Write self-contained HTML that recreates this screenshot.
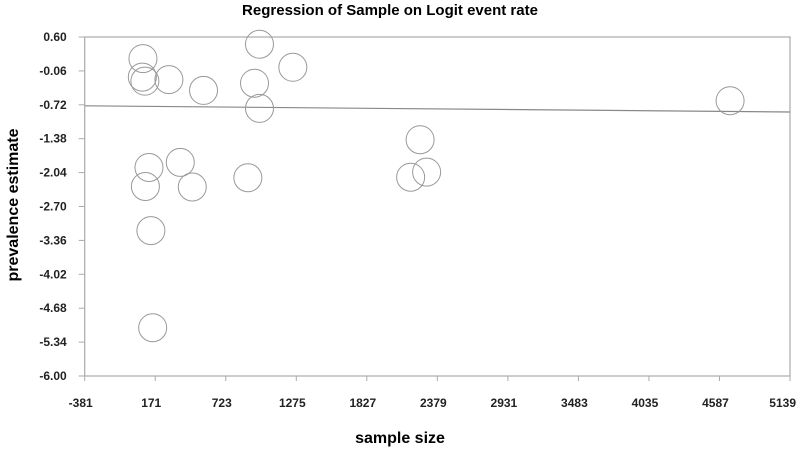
<!DOCTYPE html>
<html><head><meta charset="utf-8"><style>
html,body{margin:0;padding:0;background:#fff;}
svg{display:block;font-family:"Liberation Sans",Arial,sans-serif;}
</style></head><body>
<svg id="chart" width="796" height="454" xmlns="http://www.w3.org/2000/svg">
<text x="390" y="15" text-anchor="middle" font-size="15" font-weight="bold">Regression of Sample on Logit event rate</text>
<text transform="translate(18,205) rotate(-90)" text-anchor="middle" font-size="16" font-weight="bold">prevalence estimate</text>
<text x="400" y="443" text-anchor="middle" font-size="16" font-weight="bold">sample size</text>
<g id="plot"></g>
</svg>
<script>
const xTicks = [-381, 171, 723, 1275, 1827, 2379, 2931, 3483, 4035, 4587, 5139];
const yTicks = [0.60, -0.06, -0.72, -1.38, -2.04, -2.70, -3.36, -4.02, -4.68, -5.34, -6.00];
const sampleSizes = [75, 70, 90, 278, 549, 987, 948, 1248, 987, 122, 367, 94, 461, 896, 137, 151, 2244, 2170, 2295, 4670];
const prevalence = [0.18, -0.18, -0.26, -0.23, -0.44, 0.46, -0.30, 0.01, -0.79, -1.94, -1.84, -2.31, -2.32, -2.14, -3.17, -5.06, -1.40, -2.13, -2.03, -0.64];
const regX = [-381, 5139];
const regY = [-0.74, -0.86];

const L = 84.7, R = 790, T = 37, B = 376;
const xMin = -381, xMax = 5139, yMin = -6, yMax = 0.6;
const sx = v => L + (v - xMin) / (xMax - xMin) * (R - L);
const sy = v => B - (v - yMin) / (yMax - yMin) * (B - T);
const NS = 'http://www.w3.org/2000/svg';
const g = document.getElementById('plot');
function mk(tag, attrs) { const e = document.createElementNS(NS, tag); for (const k in attrs) e.setAttribute(k, attrs[k]); g.appendChild(e); return e; }

let e;
e = mk('rect', {x: L, y: T, width: R - L, height: B - T, fill: 'none', stroke: '#aaa', 'stroke-width': 1.2});



yTicks.forEach(v => {
  const y = sy(v);
  const t = mk('line', {x1: L - 6, x2: L, y1: y, y2: y, stroke: '#aaa'});
  
  
  const lb = mk('text', {x: L - 18, y: y + 4, 'text-anchor': 'end', 'font-size': 12, 'font-weight': 'bold', fill: '#222'});
  lb.textContent = v.toFixed(2);
  
  
});
xTicks.forEach((v, i) => {
  const x = sx(v);
  const t = mk('line', {x1: x, x2: x, y1: B, y2: B + 5, stroke: '#aaa'});
  
  
  const last = i === xTicks.length - 1;
  const lb = mk('text', {x: last ? 796 : x - 4, y: 407, 'text-anchor': last ? 'end' : 'middle', 'font-size': 12, 'font-weight': 'bold', fill: '#222'});
  lb.textContent = v;
  
  
});

e = mk('line', {x1: sx(regX[0]), y1: sy(regY[0]), x2: sx(regX[1]), y2: sy(regY[1]), stroke: '#888', 'stroke-width': 1.2});



sampleSizes.forEach((v, i) => {
  const c = mk('circle', {cx: sx(v), cy: sy(prevalence[i]), r: 14, fill: 'none', stroke: '#999', 'stroke-width': 1});
  
  
});
</script>
</body></html>
